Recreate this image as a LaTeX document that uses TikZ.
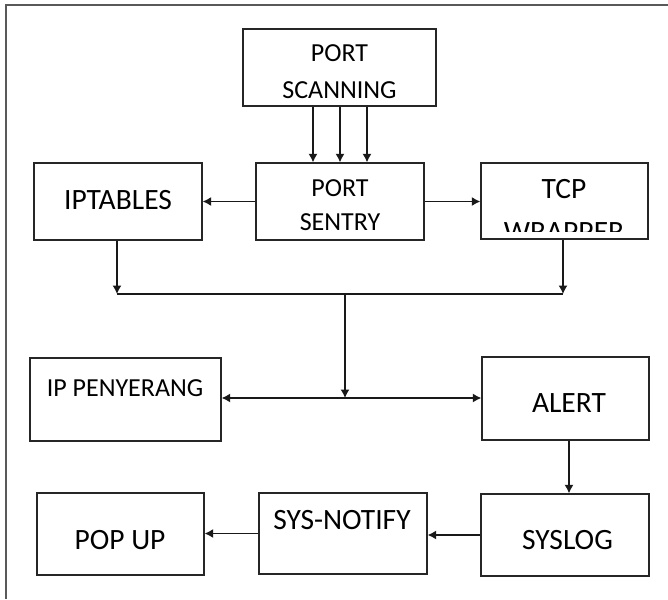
\documentclass[tikz,border=0pt]{standalone}
\usepackage{fontspec}
\setmainfont{Carlito}
\usetikzlibrary{arrows.meta}
\begin{document}
\begin{tikzpicture}[x=1pt,y=-1pt,
  box/.style={draw=black!85,line width=1.3pt,inner sep=0pt},
  lbl/.style={inner sep=0pt,align=center,text=black},
  big/.style={font=\fontsize{29.5}{36}\selectfont},
  small/.style={font=\fontsize{26}{37}\selectfont},
  conn/.style={line width=1.3pt,draw=black!90},
  arr/.style={conn,-{Latex[length=8.5pt,width=9pt]}},
  darr/.style={conn,{Latex[length=8.5pt,width=9pt]}-{Latex[length=8.5pt,width=9pt]}},
]
\useasboundingbox (0,0) rectangle (668,599);
\draw[line width=2pt,draw=black!65] (5.5,599) -- (5.5,5.5) -- (668,5.5);

% boxes
\node[box,minimum width=193pt,minimum height=77pt] (scan) at (339.5,67.5) {};
\node[box,minimum width=168pt,minimum height=77pt] (sentry) at (340,201.5) {};
\node[box,minimum width=168pt,minimum height=77pt] (ipt) at (118,201.5) {};
\node[box,minimum width=167pt,minimum height=76pt] (tcp) at (564.5,201) {};
\node[box,minimum width=191pt,minimum height=83pt] (ippen) at (125.5,399.5) {};
\node[box,minimum width=167pt,minimum height=83pt] (alert) at (565.5,398.5) {};
\node[box,minimum width=168pt,minimum height=82pt] (syslog) at (565,535) {};
\node[box,minimum width=168pt,minimum height=81pt] (notify) at (343,533.5) {};
\node[box,minimum width=167pt,minimum height=82pt] (popup) at (120.5,534) {};

% labels
\node[lbl,small] (tscan) at (339.5,71.5) {PORT\\SCANNING};
\node[lbl,font=\fontsize{26}{34}\selectfont] (tsentry) at (340,205) {PORT\\SENTRY};
\node[lbl,big] (tipt) at (118,200) {IPTABLES};
\begin{scope}
  \clip (481,163) rectangle (648,231);
  \node[lbl,font=\fontsize{29.5}{42.5}\selectfont] (ttcp) at (564,210.25) {TCP\\WRAPPER};
\end{scope}
\node[lbl,small] (tippen) at (125,388) {IP PENYERANG};
\node[lbl,big] (talert) at (569,403) {ALERT};
\node[lbl,big] (tsyslog) at (567.5,540) {SYSLOG};
\node[lbl,big] (tnotify) at (342,520) {SYS-NOTIFY};
\node[lbl,big] (tpopup) at (120,540) {POP UP};

% connectors
\draw[arr] ([xshift=-26.5pt]scan.south) -- ([xshift=-27pt]sentry.north);
\draw[arr] ([xshift=0.5pt]scan.south) -- ([xshift=0pt]sentry.north);
\draw[arr] ([xshift=27.5pt]scan.south) -- ([xshift=27pt]sentry.north);
\draw[arr] (sentry.west) -- (ipt.east);
\draw[arr] (sentry.east) -- (tcp.west |- sentry.east);

\coordinate (jl) at (117,294);
\coordinate (jr) at (563,294);
\coordinate (jm) at (345,294);
\coordinate (jb) at (345,398);
\draw[arr] (ipt.south -| jl) -- (jl);
\draw[arr] (tcp.south -| jr) -- (jr);
\draw[conn] (jl) -- (jr);
\draw[arr] (jm) -- (jb);
\draw[darr] (ippen.east |- jb) -- (alert.west |- jb);
\draw[arr] ([xshift=3.5pt]alert.south) -- ([xshift=3.5pt]alert.south |- syslog.north);
\draw[arr] (syslog.west) -- (notify.east |- syslog.west);
\draw[arr] (notify.west) -- (popup.east |- notify.west);
\end{tikzpicture}
\end{document}
